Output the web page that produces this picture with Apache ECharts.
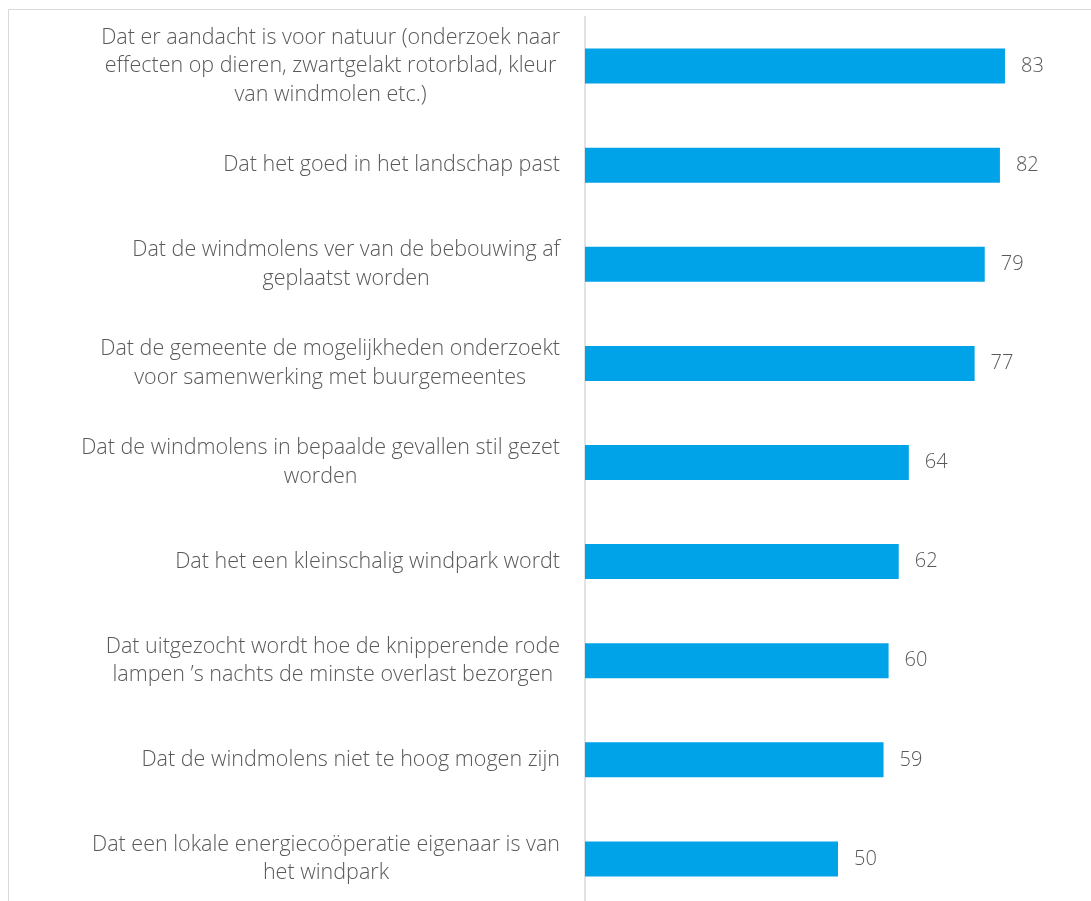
<!DOCTYPE html>
<html><head><meta charset="utf-8">
<script src="https://cdn.jsdelivr.net/npm/echarts@6/dist/echarts.min.js"></script>
<style>html,body{margin:0;padding:0;background:#fff;overflow:hidden}#c{width:1091px;height:910px}</style>
</head><body><div id="c"></div>
<script>
const categories = [
  "Dat er aandacht is voor natuur (onderzoek naar\neffecten op dieren, zwartgelakt rotorblad, kleur\nvan windmolen etc.)",
  "Dat het goed in het landschap past",
  "Dat de windmolens ver van de bebouwing af\ngeplaatst worden",
  "Dat de gemeente de mogelijkheden onderzoekt\nvoor samenwerking met buurgemeentes",
  "Dat de windmolens in bepaalde gevallen stil gezet\nworden",
  "Dat het een kleinschalig windpark wordt",
  "Dat uitgezocht wordt hoe de knipperende rode\nlampen \u2019s nachts de minste overlast bezorgen",
  "Dat de windmolens niet te hoog mogen zijn",
  "Dat een lokale energieco\u00f6peratie eigenaar is van\nhet windpark"
];
const values = [83, 82, 79, 77, 64, 62, 60, 59, 50];

const chart = echarts.init(document.getElementById('c'), null, {renderer: 'canvas'});
const FONT = 'Open Sans';
chart.setOption({
  animation: false,
  graphic: [{
    type: 'rect', shape: {x: 8.5, y: 9.5, width: 1200, height: 1000},
    style: {fill: 'none', stroke: '#d9d9d9', lineWidth: 1}, silent: true, z: -1
  }],
  grid: {left: 585, right: 0, top: 16.5, bottom: 1.5, containLabel: false},
  xAxis: {type: 'value', min: 0, max: 100, show: false},
  yAxis: {
    type: 'category', data: categories, inverse: true,
    axisLine: {show: true, lineStyle: {color: '#d9d9d9', width: 1.5}},
    axisTick: {show: false},
    axisLabel: {
      margin: 25, align: 'right',
      formatter: v => v.split('\n').map(s => '{c|' + s + '}').join('\n'),
      rich: {c: {align: 'center', color: '#595959', fontFamily: FONT, fontWeight: 300, fontSize: 21.5, lineHeight: 28.5}}
    }
  },
  series: [{
    type: 'bar', data: values, barWidth: 35,
    itemStyle: {color: '#00a2e8'},
    label: {show: true, position: 'right', distance: 16, color: '#595959', fontFamily: FONT, fontWeight: 300, fontSize: 20}
  }]
});
</script></body></html>
